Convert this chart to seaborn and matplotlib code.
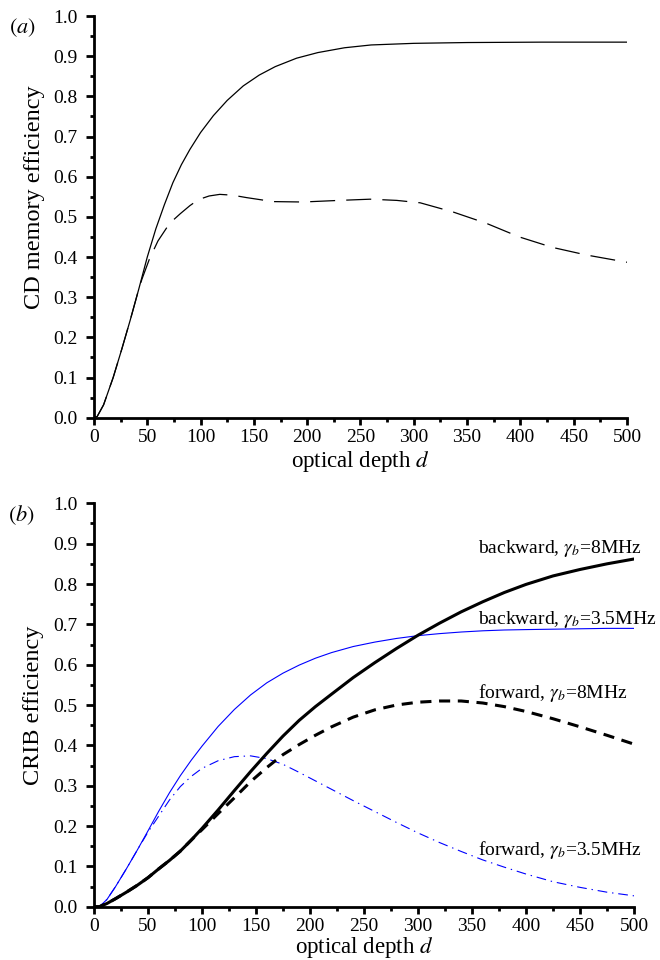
import numpy as np
import pandas as pd
import matplotlib
matplotlib.use("Agg")
import matplotlib.pyplot as plt
import seaborn as sns
from matplotlib.ticker import MultipleLocator, FormatStrFormatter

sns.set_style("ticks")
plt.rcParams['font.family'] = ['Liberation Serif', 'DejaVu Serif']
plt.rcParams['mathtext.fontset'] = 'stix'
plt.rcParams['lines.scale_dashes'] = False
for k in ['text.color', 'axes.labelcolor', 'xtick.color', 'ytick.color', 'axes.edgecolor']:
    plt.rcParams[k] = 'black'

# ── panel (a): CD memory efficiency ──
d_a_solid = [0, 3, 9, 18, 26, 34, 42, 50, 58, 66, 74, 82, 90, 100, 112, 125, 140, 155, 170,
             190, 210, 235, 260, 300, 350, 420, 500]
eff_a_solid = [0.0, 0.003, 0.032, 0.10, 0.17, 0.243, 0.32, 0.40, 0.47, 0.53, 0.585, 0.63, 0.668,
               0.71, 0.752, 0.79, 0.826, 0.853, 0.874, 0.895, 0.909, 0.921, 0.928, 0.932, 0.934,
               0.935, 0.935]

d_a_dash = [0, 3, 9, 18, 26, 34, 42, 45, 52, 60, 71, 81, 90, 98, 108, 118, 130, 143, 168, 196,
            230, 259, 284, 306, 337, 368, 399, 430, 462, 500]
eff_a_dash = [0.0, 0.003, 0.032, 0.10, 0.17, 0.243, 0.32, 0.345, 0.395, 0.44, 0.484, 0.508,
              0.528, 0.543, 0.552, 0.556, 0.554, 0.548, 0.538, 0.537, 0.541, 0.544, 0.541,
              0.535, 0.512, 0.484, 0.450, 0.424, 0.405, 0.387]

# ── panel (b): CRIB efficiency ──
d_b = [0, 5, 12, 20, 30, 40, 50, 60, 70, 80, 90, 100, 115, 130, 145, 160, 175, 190, 205, 220,
       240, 260, 280, 300, 320, 340, 360, 380, 400, 425, 450, 475, 500]

eff_back_8 = [0.0, 0.0, 0.008, 0.02, 0.036, 0.053, 0.072, 0.094, 0.115, 0.138, 0.165, 0.194,
              0.24, 0.288, 0.335, 0.38, 0.423, 0.462, 0.496, 0.527, 0.568, 0.605, 0.640, 0.673,
              0.703, 0.731, 0.756, 0.779, 0.799, 0.820, 0.836, 0.850, 0.862]
eff_fwd_8 = [0.0, 0.0, 0.008, 0.02, 0.036, 0.053, 0.072, 0.094, 0.115, 0.138, 0.165, 0.191,
             0.231, 0.27, 0.31, 0.345, 0.377, 0.402, 0.425, 0.446, 0.470, 0.488, 0.500, 0.507,
             0.510, 0.510, 0.505, 0.496, 0.484, 0.466, 0.446, 0.425, 0.403]

eff_back_35 = [0.0, 0.0, 0.018, 0.05, 0.094, 0.14, 0.188, 0.237, 0.283, 0.325, 0.363, 0.398,
               0.447, 0.489, 0.525, 0.555, 0.579, 0.599, 0.616, 0.630, 0.645, 0.656, 0.665,
               0.672, 0.677, 0.681, 0.684, 0.686, 0.687, 0.688, 0.689, 0.690, 0.690]
eff_fwd_35 = [0.0, 0.0, 0.018, 0.05, 0.094, 0.14, 0.185, 0.225, 0.265, 0.298, 0.323, 0.343,
              0.362, 0.372, 0.374, 0.367, 0.353, 0.333, 0.312, 0.291, 0.263, 0.236, 0.209,
              0.183, 0.159, 0.137, 0.116, 0.098, 0.081, 0.062, 0.048, 0.036, 0.027]

labels_b = ["backward, $\\gamma_b$=8MHz", "backward, $\\gamma_b$=3.5MHz",
            "forward, $\\gamma_b$=8MHz", "forward, $\\gamma_b$=3.5MHz"]
label_y = [0.877, 0.70, 0.517, 0.128]

fig = plt.figure(figsize=(6.6, 9.6), dpi=100)
ax_a = fig.add_axes([0.1424, 0.5649, 0.8076, 0.4184])
ax_b = fig.add_axes([0.1424, 0.0555, 0.8182, 0.4202])

sns.lineplot(x=d_a_solid, y=eff_a_solid, ax=ax_a, color="black", linewidth=0.9, sort=False)
sns.lineplot(x=d_a_dash, y=eff_a_dash, ax=ax_a, color="black", linewidth=0.9,
             linestyle=(0, (18, 8)), sort=False)

sns.lineplot(x=d_b, y=eff_back_35, ax=ax_b, color="#0000ff", linewidth=0.8, sort=False)
sns.lineplot(x=d_b, y=eff_fwd_35, ax=ax_b, color="#0000ff", linewidth=0.8,
             linestyle=(0, (7, 3.5, 1, 3.5)), sort=False)
sns.lineplot(x=d_b, y=eff_back_8, ax=ax_b, color="black", linewidth=2.2, sort=False)
sns.lineplot(x=d_b, y=eff_fwd_8, ax=ax_b, color="black", linewidth=2.2,
             linestyle=(0, (8, 5.5)), sort=False)

for txt, yy in zip(labels_b, label_y):
    ax_b.text(356, yy, txt, fontsize=14, ha="left", va="baseline")

for ax, ylab, tag, ylab_y, xlab_y in [(ax_a, "CD memory efficiency", "$(a)$", 0.55, -0.108),
                                      (ax_b, "CRIB efficiency", "$(b)$", 0.5, -0.1)]:
    ax.set_xlim(0, 500)
    ax.set_ylim(0, 1.0)
    ax.xaxis.set_major_locator(MultipleLocator(50))
    ax.xaxis.set_minor_locator(MultipleLocator(25))
    ax.yaxis.set_major_locator(MultipleLocator(0.1))
    ax.yaxis.set_minor_locator(MultipleLocator(0.05))
    ax.yaxis.set_major_formatter(FormatStrFormatter("%.1f"))
    sns.despine(ax=ax)
    for s in ["left", "bottom"]:
        ax.spines[s].set_linewidth(2.0)
    ax.tick_params(axis="y", which="major", length=6, width=2, labelsize=14, pad=6)
    ax.tick_params(axis="y", which="minor", length=3, width=2)
    ax.tick_params(axis="x", which="major", length=5, width=2, labelsize=14, pad=3)
    ax.tick_params(axis="x", which="minor", length=3, width=2)
    ax.set_xlabel("optical depth $d$", fontsize=16.5, va="center")
    ax.xaxis.set_label_coords(0.5, xlab_y)
    ax.set_ylabel(ylab, fontsize=17.5, va="center")
    ax.yaxis.set_label_coords(-0.112, ylab_y)
    ax.text(-0.16, 1.0, tag, transform=ax.transAxes, fontsize=16, ha="left", va="top")

fig.savefig("out.png", dpi=100)
